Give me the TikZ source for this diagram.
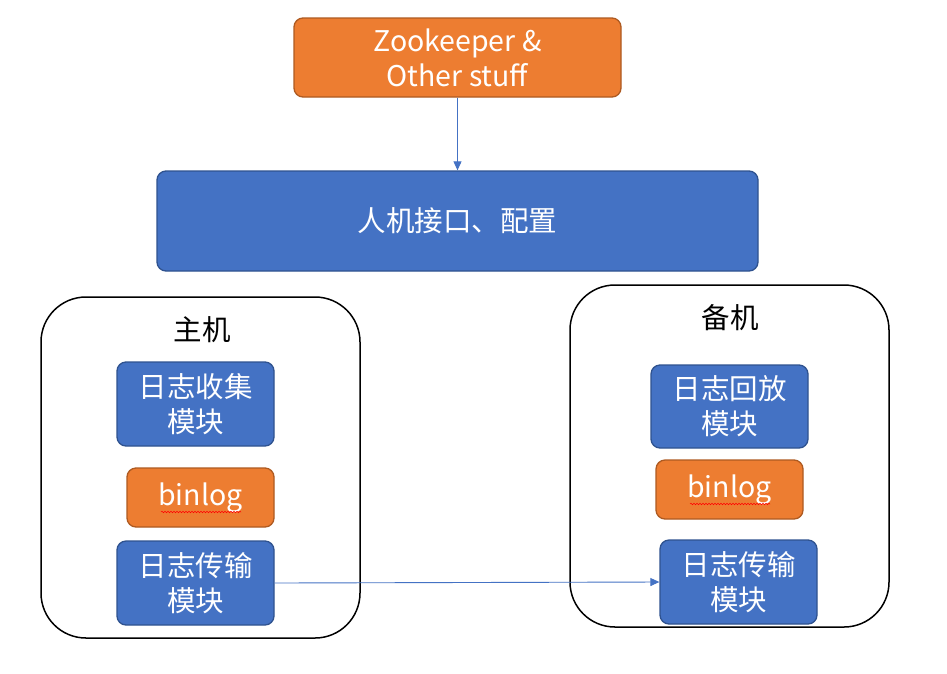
\documentclass[tikz,border=0pt]{standalone}
\usepackage{fontspec}
\setmainfont{Noto Sans CJK SC}
\usetikzlibrary{arrows.meta,decorations.pathmorphing}
\definecolor{ora}{HTML}{ED7D31}
\definecolor{orad}{HTML}{AE5A21}
\definecolor{blu}{HTML}{4472C4}
\definecolor{blud}{HTML}{2F528F}
\tikzset{
  box/.style={draw=blud, fill=blu, line width=1.3pt, rounded corners=9pt, text=white, align=center,
    font=\fontsize{28.5}{35}\selectfont, inner sep=0pt},
  obox/.style={box, draw=orad, fill=ora},
  host/.style={draw=black, line width=1.5pt, rounded corners=45pt},
  conn/.style={draw=blu, line width=0.9pt, -{Triangle[length=9pt,width=8pt]}},
  lbl/.style={font=\fontsize{28.5}{30}\selectfont, text=black, inner sep=0pt},
  squig/.style={draw=red, line width=0.5pt, decorate, decoration={snake, amplitude=0.8pt, segment length=3pt}}
}
\begin{document}
\begin{tikzpicture}[x=1pt,y=-1pt]
\useasboundingbox (0,0) rectangle (947,673);
\fill[white] (0,0) rectangle (947,673);
% hosts
\draw[host] (41,297) rectangle (360,638);
\draw[host] (570,285) rectangle (889,627);
\node[lbl] (zhu) at (202,330) {主机};
\node[lbl] (bei) at (730,318) {备机};
% top
\node[obox, minimum width=327pt, minimum height=79pt] (zk) at (457.5,57.5) {Zookeeper \&\\Other stuff};
\node[box, minimum width=601pt, minimum height=100pt] (cfg) at (457.5,221) {人机接口、配置};
% left
\node[box, minimum width=157pt, minimum height=84pt] (collect) at (195.5,404) {日志收集\\模块};
\node[obox, minimum width=147pt, minimum height=59pt] (binl) at (200.5,497.5) {binlog};
\node[box, minimum width=157pt, minimum height=84pt] (transl) at (195.5,583) {日志传输\\模块};
% right
\node[box, minimum width=157pt, minimum height=83pt] (replay) at (729.5,406.5) {日志回放\\模块};
\node[obox, minimum width=147pt, minimum height=59pt] (binr) at (729.5,489.5) {binlog};
\node[box, minimum width=157pt, minimum height=84pt] (transr) at (738.5,582) {日志传输\\模块};
% squiggles
\coordinate (sl1) at (161,512); \coordinate (sl2) at (241,512);
\coordinate (sr1) at (690,504); \coordinate (sr2) at (770,504);
\draw[squig] (sl1) -- (sl2);
\draw[squig] (sr1) -- (sr2);
% arrows
\draw[conn] (zk.south) -- (cfg.north);
\draw[conn] (transl.east) -- (transr.west);
\end{tikzpicture}
\end{document}
